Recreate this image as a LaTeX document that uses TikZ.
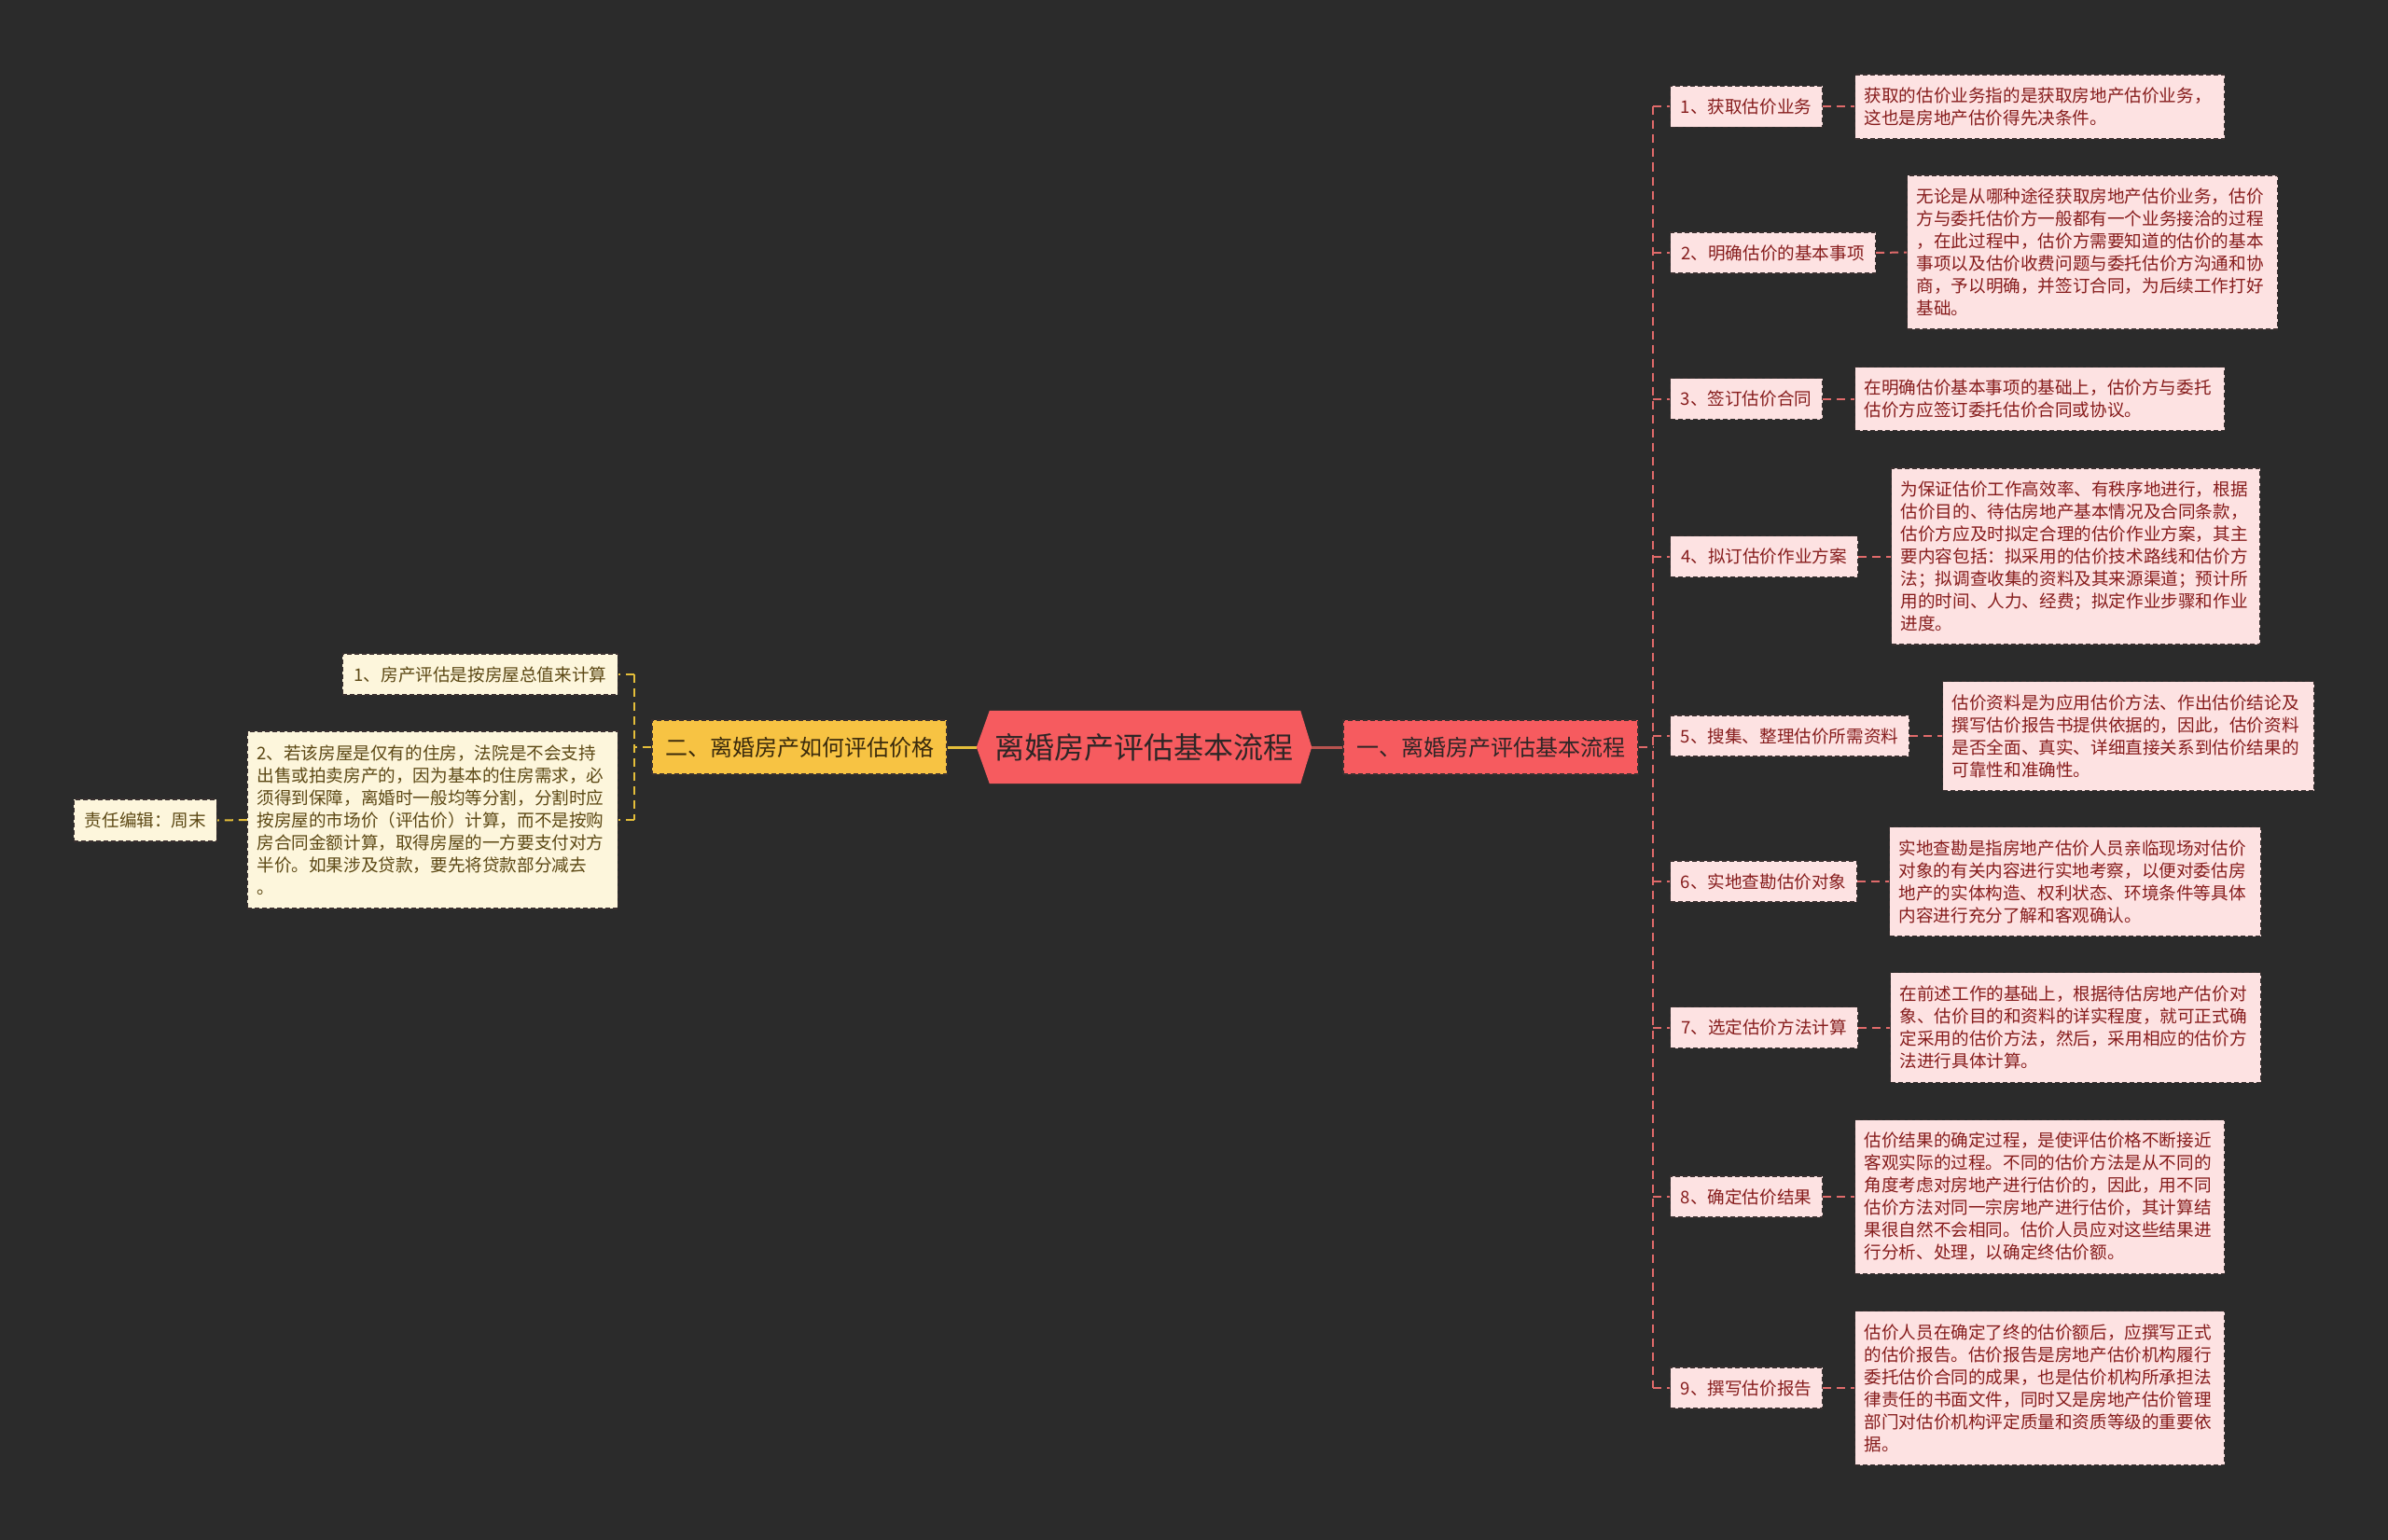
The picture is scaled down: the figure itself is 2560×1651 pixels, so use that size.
\documentclass[tikz,border=0pt]{standalone}
\usepackage{fontspec}
\newfontfamily\cjk{Noto Sans CJK SC}
\usetikzlibrary{backgrounds}
\definecolor{bgc}{HTML}{2B2B2B}
\definecolor{rootred}{HTML}{F65B5F}
\definecolor{roottext}{HTML}{2E2626}
\definecolor{boxborder}{HTML}{3A3030}
\definecolor{pinkfill}{HTML}{FDE2E2}
\definecolor{darkred}{HTML}{861C1C}
\definecolor{rline}{HTML}{E06A6A}
\definecolor{rootrline}{HTML}{B9534F}
\definecolor{goldfill}{HTML}{F7C343}
\definecolor{goldtext}{HTML}{3A2A0C}
\definecolor{creamfill}{HTML}{FDF6DC}
\definecolor{olivetext}{HTML}{5C4814}
\definecolor{yline}{HTML}{E4BE3A}
\begin{document}
\begin{tikzpicture}[x=1pt,y=-1pt,
  rootnode/.style={font=\cjk\fontsize{32}{38}\selectfont, text=roottext, minimum width=359pt, minimum height=78pt, inner sep=0pt},
  branchbox/.style={draw=boxborder, dash pattern=on 5pt off 3pt, line width=1.2pt, font=\cjk\fontsize{24}{30}\selectfont, minimum width=316pt, minimum height=58pt, inner sep=0pt},
  itembox/.style={draw=boxborder, dash pattern=on 5pt off 3pt, line width=1.2pt, fill=pinkfill, text=darkred, font=\cjk\fontsize{18.6}{24}\selectfont, minimum height=44pt, inner xsep=10pt, inner ysep=0pt, anchor=west},
  detailbox/.style={itembox, align=left, inner xsep=10pt},
  litembox/.style={itembox, fill=creamfill, text=olivetext},
  ldetailbox/.style={detailbox, fill=creamfill, text=olivetext},
  rconn/.style={draw=rline, line width=2pt, dash pattern=on 9pt off 6pt},
  lconn/.style={draw=yline, line width=2pt, dash pattern=on 9pt off 6pt}
]
\begin{scope}[on background layer]
\fill[bgc] (0,0) rectangle (2560,1651);
\end{scope}
\useasboundingbox (0,0) rectangle (2560,1651);

% root
\node[rootnode] (root) at (1226.5,801) {离婚房产评估基本流程};
\begin{scope}[on background layer]
\fill[rootred] (root.west) -- ([xshift=14pt]root.north west) -- ([xshift=-12pt]root.north east) -- (root.east) -- ([xshift=-12pt]root.south east) -- ([xshift=14pt]root.south west) -- cycle;
\end{scope}

% branches
\node[branchbox, fill=rootred, text=roottext] (one) at (1598,801) {一、离婚房产评估基本流程};
\node[branchbox, fill=goldfill, text=goldtext] (two) at (857,801) {二、离婚房产如何评估价格};

\draw[rootrline, line width=3pt] (root.east) -- (one.west);
\draw[yline, line width=3pt] (root.west) -- (two.east);

% right items
\node[itembox, minimum width=163pt] (r1) at (1790,114.5) {1、获取估价业务};
\node[itembox, minimum width=220pt] (r2) at (1790,271) {2、明确估价的基本事项};
\node[itembox, minimum width=163pt] (r3) at (1790,427.5) {3、签订估价合同};
\node[itembox, minimum width=201pt] (r4) at (1790,596.5) {4、拟订估价作业方案};
\node[itembox, minimum width=256pt] (r5) at (1790,789) {5、搜集、整理估价所需资料};
\node[itembox, minimum width=200pt] (r6) at (1790,945) {6、实地查勘估价对象};
\node[itembox, minimum width=201pt] (r7) at (1790,1101.5) {7、选定估价方法计算};
\node[itembox, minimum width=163pt] (r8) at (1790,1283) {8、确定估价结果};
\node[itembox, minimum width=163pt] (r9) at (1790,1488) {9、撰写估价报告};

% right details
\node[detailbox, text width=376pt, minimum height=69pt] (d1) at (1988,114.5) {获取的估价业务指的是获取房地产估价业务，\\这也是房地产估价得先决条件。};
\node[detailbox, text width=377pt, minimum height=165pt] (d2) at (2044,270.5) {无论是从哪种途径获取房地产估价业务，估价\\方与委托估价方一般都有一个业务接洽的过程\\，在此过程中，估价方需要知道的估价的基本\\事项以及估价收费问题与委托估价方沟通和协\\商，予以明确，并签订合同，为后续工作打好\\基础。};
\node[detailbox, text width=376pt, minimum height=68pt] (d3) at (1988,427.5) {在明确估价基本事项的基础上，估价方与委托\\估价方应签订委托估价合同或协议。};
\node[detailbox, text width=375pt, minimum height=189pt] (d4) at (2027,596.5) {为保证估价工作高效率、有秩序地进行，根据\\估价目的、待估房地产基本情况及合同条款，\\估价方应及时拟定合理的估价作业方案，其主\\要内容包括：拟采用的估价技术路线和估价方\\法；拟调查收集的资料及其来源渠道；预计所\\用的时间、人力、经费；拟定作业步骤和作业\\进度。};
\node[detailbox, text width=378pt, minimum height=117pt] (d5) at (2082,789) {估价资料是为应用估价方法、作出估价结论及\\撰写估价报告书提供依据的，因此，估价资料\\是否全面、真实、详细直接关系到估价结果的\\可靠性和准确性。};
\node[detailbox, text width=378pt, minimum height=117pt] (d6) at (2025,945) {实地查勘是指房地产估价人员亲临现场对估价\\对象的有关内容进行实地考察，以便对委估房\\地产的实体构造、权利状态、环境条件等具体\\内容进行充分了解和客观确认。};
\node[detailbox, text width=377pt, minimum height=118pt] (d7) at (2026,1101.5) {在前述工作的基础上，根据待估房地产估价对\\象、估价目的和资料的详实程度，就可正式确\\定采用的估价方法，然后，采用相应的估价方\\法进行具体计算。};
\node[detailbox, text width=376pt, minimum height=165pt] (d8) at (1988,1283) {估价结果的确定过程，是使评估价格不断接近\\客观实际的过程。不同的估价方法是从不同的\\角度考虑对房地产进行估价的，因此，用不同\\估价方法对同一宗房地产进行估价，其计算结\\果很自然不会相同。估价人员应对这些结果进\\行分析、处理，以确定终估价额。};
\node[detailbox, text width=376pt, minimum height=165pt] (d9) at (1988,1488) {估价人员在确定了终的估价额后，应撰写正式\\的估价报告。估价报告是房地产估价机构履行\\委托估价合同的成果，也是估价机构所承担法\\律责任的书面文件，同时又是房地产估价管理\\部门对估价机构评定质量和资质等级的重要依\\据。};

% right connectors
\coordinate (rj) at (1772,801);
\draw[rconn] (one.east) -- (rj);
\draw[rconn] (r1.west -| rj) -- (r9.west -| rj);
\foreach \i in {1,...,9}{
  \draw[rconn] (r\i.west -| rj) -- (r\i.west);
  \draw[rconn] (r\i.east) -- (d\i.west);
}

% left items
\node[litembox, anchor=east, minimum width=295pt] (l1) at (663,723) {1、房产评估是按房屋总值来计算};
\node[ldetailbox, anchor=east, text width=377pt, minimum height=190pt] (l2) at (663,879) {2、若该房屋是仅有的住房，法院是不会支持\\出售或拍卖房产的，因为基本的住房需求，必\\须得到保障，离婚时一般均等分割，分割时应\\按房屋的市场价（评估价）计算，而不是按购\\房合同金额计算，取得房屋的一方要支付对方\\半价。如果涉及贷款，要先将贷款部分减去\\。};
\node[litembox, anchor=east, minimum width=153pt, minimum height=45pt] (ed) at (233,879.5) {责任编辑：周末};

% left connectors
\coordinate (lj) at (680,801);
\draw[lconn] (two.west) -- (lj);
\draw[lconn] (l1.east -| lj) -- (l2.east -| lj);
\draw[lconn] (l1.east -| lj) -- (l1.east);
\draw[lconn] (l2.east -| lj) -- (l2.east);
\draw[lconn] (l2.west) -- (ed.east);
\end{tikzpicture}
\end{document}
